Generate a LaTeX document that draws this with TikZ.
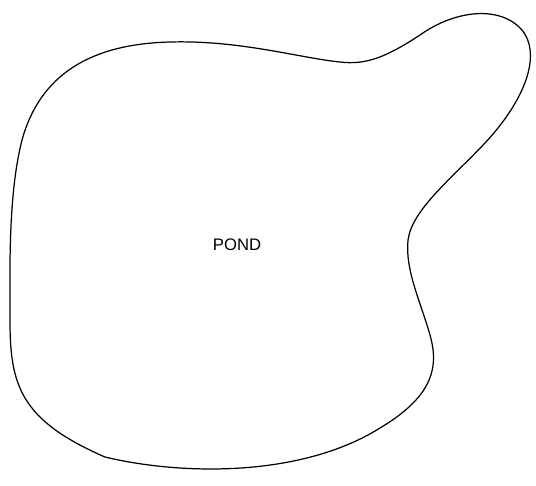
\documentclass[tikz,border=0pt]{standalone}
\usepackage{fontspec}
\setmainfont{Liberation Sans}
\begin{document}
\begin{tikzpicture}[x=0.02cm, y=-0.02cm,
  outline/.style={draw, line width=0.7pt, line join=round},
  label/.style={font=\fontsize{9.5}{11}\selectfont, inner sep=0pt},
]
\useasboundingbox (0,0) rectangle (536,485);

% Pond outline
\draw[outline] (105,457)
  .. controls (180,475) and (300,478) .. (380,428)
  .. controls (430,398) and (440,370) .. (430,335)
  .. controls (420,300) and (405,270) .. (408,240)
  .. controls (412,210) and (450,180) .. (485,143)
  .. controls (525,100) and (542,55) .. (522,30)
  .. controls (500,5) and (455,10) .. (420,35)
  .. controls (385,58) and (365,65) .. (340,62)
  .. controls (300,58) and (240,40) .. (170,42)
  .. controls (90,44) and (40,75) .. (22,140)
  .. controls (8,195) and (10,270) .. (10,320)
  .. controls (10,385) and (20,420) .. (105,457) -- cycle;

% Label
\node[label] (pond) at (237,245) {POND};

\end{tikzpicture}
\end{document}
